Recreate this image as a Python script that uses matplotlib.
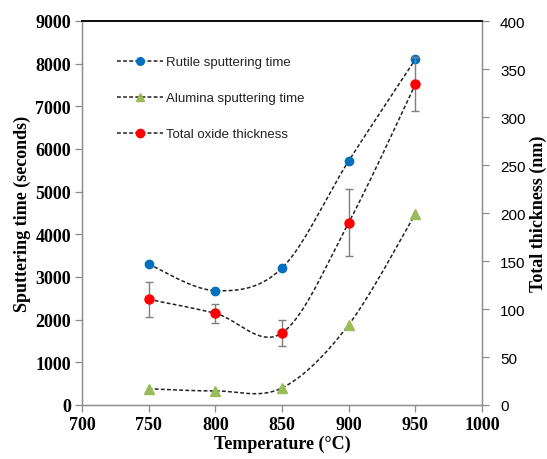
import numpy as np
import matplotlib
matplotlib.use("Agg")
import matplotlib.pyplot as plt
from matplotlib.lines import Line2D

temps = [750, 800, 850, 900, 950]
rutile_time = [3300, 2680, 3210, 5720, 8100]
alumina_time = [380, 330, 400, 1880, 4480]
thickness = [110, 95.5, 75, 190, 334]
thickness_err = [18, 10, 13.5, 35, 28]

x_ticks = [700, 750, 800, 850, 900, 950, 1000]
left_ticks = [0, 1000, 2000, 3000, 4000, 5000, 6000, 7000, 8000, 9000]
right_ticks = [0, 50, 100, 150, 200, 250, 300, 350, 400]

labels = ["Rutile sputtering time", "Alumina sputtering time", "Total oxide thickness"]


def smooth(xs, ys, xr, yr, n=40):
    # Excel-like Bezier smoothing in normalized coordinates
    X = np.array(xs, float) / xr
    Y = np.array(ys, float) / yr
    P = np.column_stack([X, Y])
    out = [P[0]]
    m = len(P)
    for i in range(m - 1):
        p0 = P[i - 1] if i > 0 else P[i]
        p1 = P[i]
        p2 = P[i + 1]
        p3 = P[i + 2] if i + 2 < m else P[i + 1]
        c1 = p1 + (p2 - p0) / 6.0
        c2 = p2 - (p3 - p1) / 6.0
        t = np.linspace(0, 1, n)[1:, None]
        seg = ((1 - t) ** 3) * p1 + 3 * ((1 - t) ** 2) * t * c1 + 3 * (1 - t) * t ** 2 * c2 + t ** 3 * p2
        out.extend(seg)
    out = np.array(out)
    return out[:, 0] * xr, out[:, 1] * yr


fig = plt.figure(figsize=(5.47, 4.60), dpi=100)
ax = fig.add_axes([82 / 547, 1 - 406 / 460, 400 / 547, 384 / 460])
ax2 = ax.twinx()

blue = "#0070C0"
green = "#9BBB59"
red = "#FF0000"
grey = "#8C8C8C"
dash = (0, (2.5, 1.5))

xr = 300.0
sx, sy = smooth(temps, rutile_time, xr, 9000 * 0.75)
ax.plot(sx, sy, ls=dash, color="#222222", lw=1.1, zorder=2)
ax.plot(temps, rutile_time, "o", color=blue, ms=6, zorder=3)

sx, sy = smooth(temps, alumina_time, xr, 9000 * 0.75)
ax.plot(sx, sy, ls=dash, color="#222222", lw=1.1, zorder=2)
ax.plot(temps, alumina_time, "^", color=green, ms=6.5, zorder=3)

sx, sy = smooth(temps, thickness, xr, 400 * 0.75)
ax2.plot(sx, sy, ls=dash, color="#222222", lw=1.1, zorder=2)
ax2.errorbar(temps, thickness, yerr=thickness_err, fmt="none", ecolor="#7F7F7F",
             elinewidth=1.0, capsize=3, capthick=1.0, zorder=2)
ax2.plot(temps, thickness, "o", color=red, ms=6.5, zorder=3)

ax.set_xlim(700, 1000)
ax.set_ylim(0, 9000)
ax2.set_ylim(0, 400)
ax.set_xticks(x_ticks)
ax.set_yticks(left_ticks)
ax2.set_yticks(right_ticks)

serif = "Liberation Serif"
sans = "Liberation Sans"
ax.set_xticklabels([str(v) for v in x_ticks], fontfamily=serif, fontweight="bold", fontsize=13)
ax.set_yticklabels([str(v) for v in left_ticks], fontfamily=serif, fontweight="bold", fontsize=13)
ax2.set_yticklabels([str(v) for v in right_ticks], fontfamily=sans, fontsize=11)

for a in (ax, ax2):
    for s in ("left", "right", "bottom"):
        a.spines[s].set_color(grey)
        a.spines[s].set_linewidth(0.9)
    a.spines["top"].set_color("#111111")
    a.spines["top"].set_linewidth(1.3)
ax.tick_params(axis="both", direction="out", length=5, color=grey, width=0.9, pad=3)
ax2.tick_params(axis="y", direction="out", length=5, color=grey, width=0.9, pad=8)

ax.set_xlabel("Temperature (°C)", fontfamily=serif, fontweight="bold", fontsize=13, labelpad=1)
ax.set_ylabel("Sputtering time (seconds)", fontfamily=serif, fontweight="bold", fontsize=13, labelpad=3)
ax2.set_ylabel("Total thickness (nm)", fontfamily=serif, fontweight="bold", fontsize=13, labelpad=3)

handles = [
    Line2D([], [], ls=dash, color="#222222", lw=1.1, marker="o", mfc=blue, mec=blue, ms=5.5),
    Line2D([], [], ls=dash, color="#222222", lw=1.1, marker="^", mfc=green, mec=green, ms=6),
    Line2D([], [], ls=dash, color="#222222", lw=1.1, marker="o", mfc=red, mec=red, ms=6),
]
leg = ax.legend(handles, labels, loc="upper left", bbox_to_anchor=(0.075, 0.922), frameon=False,
                prop={"family": sans, "size": 9.5}, handlelength=3.5, handletextpad=0.2,
                labelspacing=1.8, borderaxespad=0)
for t in leg.get_texts():
    t.set_color("#222222")

fig.savefig("out.png", dpi=100)
